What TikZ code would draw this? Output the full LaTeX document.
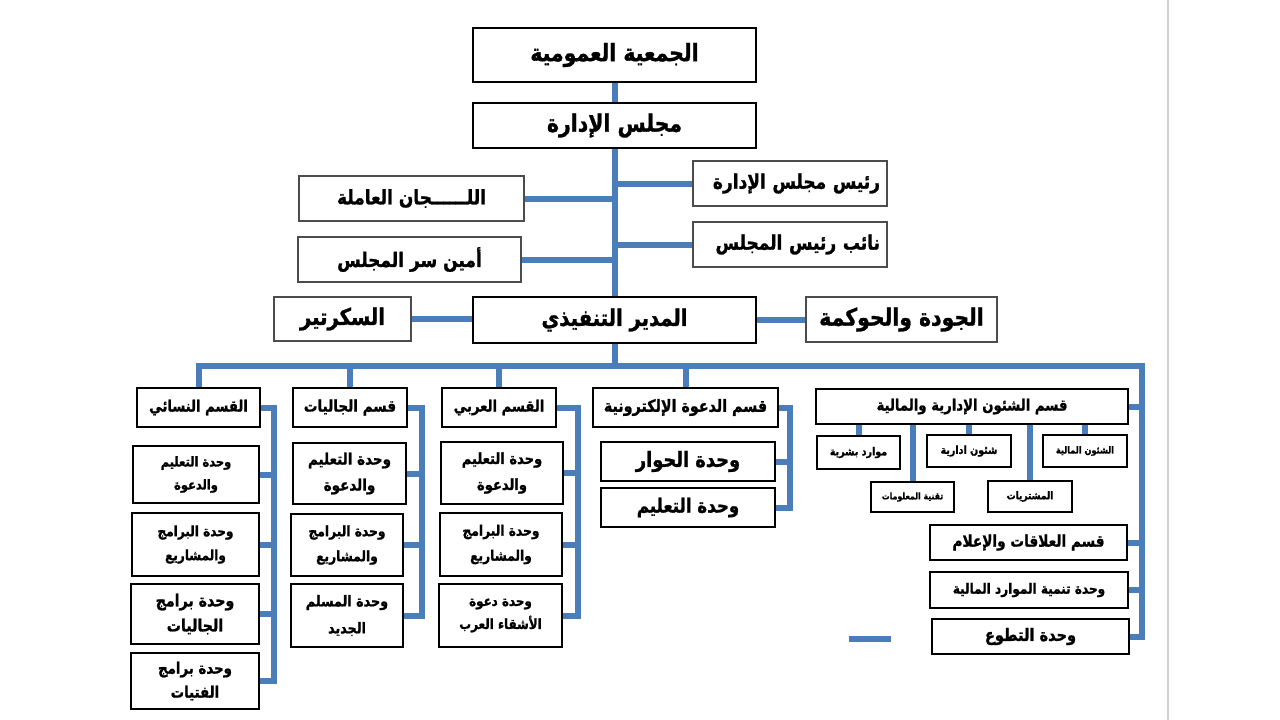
\documentclass[tikz,border=0pt]{standalone}
\usepackage{fontspec}
\usetikzlibrary{backgrounds}
\newfontfamily\arabicfont[Script=Arabic, FakeStretch=0.85, BoldFeatures={FakeBold=1.2}]{DejaVu Sans}
\TeXXeTstate=1
\newcommand\ar[1]{\beginR #1\endR}
\newcommand\fs[2]{\fontsize{#1}{#2}\selectfont}
\definecolor{cblue}{RGB}{74,126,187}
\tikzset{
  thick box/.style={draw=black, line width=2.6pt, fill=white, inner sep=0pt, align=center},
  thin box/.style={draw=black!70, line width=1.2pt, fill=white, inner sep=0pt, align=center},
  conn/.style={draw=cblue, line width=6pt},
  edge line/.style={draw=black!18, line width=1.5pt},
}
\newcommand\bx[8]{\node[#1, minimum width={(#5-#3)*1pt}, minimum height={(#6-#4)*1pt}, font=\arabicfont\bfseries#7] (#2) at ({(#3+#5)/2},{(#4+#6)/2}) {#8};}
\begin{document}
\begin{tikzpicture}[x=1pt,y=-1pt]
\useasboundingbox (0,0) rectangle (1280,720);
\coordinate (gT) at (1168,0);
\coordinate (gB) at (1168,720);
% top
\bx{thick box}{ga}{473}{28}{756}{82}{\fs{24}{28}}{\ar{الجمعية العمومية}}
\bx{thick box}{mb}{473}{103}{756}{148}{\fs{24}{28}}{\ar{مجلس الإدارة}}
\bx{thin box, text width=180pt, align=right}{rp}{693}{161}{887}{206}{\fs{20}{24}}{\ar{رئيس مجلس الإدارة}}
\bx{thin box, text width=180pt, align=right}{np}{693}{222}{887}{267}{\fs{20}{24}}{\ar{نائب رئيس المجلس}}
\bx{thin box}{lj}{299}{176}{524}{221}{\fs{20}{24}}{\ar{اللــــــجان العاملة}}
\bx{thin box}{am}{298}{237}{521}{282}{\fs{20}{24}}{\ar{أمين سر المجلس}}
\bx{thick box}{ed}{473}{297}{756}{343}{\fs{23}{27}}{\ar{المدير التنفيذي}}
\bx{thin box}{sec}{274}{297}{411}{341}{\fs{23}{27}}{\ar{السكرتير}}
\bx{thin box}{qg}{806}{297}{997}{342}{\fs{24}{28}}{\ar{الجودة والحوكمة}}
% departments
\bx{thick box}{nis}{137}{388}{260}{427}{\fs{15.5}{19}}{\ar{القسم النسائي}}
\bx{thick box}{jal}{293}{388}{407}{427}{\fs{16}{19}}{\ar{قسم الجاليات}}
\bx{thick box}{arb}{442}{388}{556}{427}{\fs{15.5}{19}}{\ar{القسم العربي}}
\bx{thick box}{dwa}{593}{388}{778}{427}{\fs{16.8}{20}}{\ar{قسم الدعوة الإلكترونية}}
\bx{thick box}{shu}{816}{389}{1128}{424}{\fs{15.6}{19}}{\ar{قسم الشئون الإدارية والمالية}}
% women section units
\bx{thick box}{n1}{133}{446}{259}{503}{\fs{13.5}{23}}{\ar{وحدة التعليم}\\\ar{والدعوة}}
\bx{thick box}{n2}{132}{513}{259}{576}{\fs{14.2}{24}}{\ar{وحدة البرامج}\\\ar{والمشاريع}}
\bx{thick box}{n3}{131}{584}{259}{644}{\fs{16.7}{25}}{\ar{وحدة برامج}\\\ar{الجاليات}}
\bx{thick box}{n4}{131}{653}{259}{709}{\fs{15.7}{24}}{\ar{وحدة برامج}\\\ar{الفتيات}}
% communities units
\bx{thick box}{j1}{293}{443}{406}{504}{\fs{15.9}{26}}{\ar{وحدة التعليم}\\\ar{والدعوة}}
\bx{thick box}{j2}{291}{514}{403}{576}{\fs{14.4}{25}}{\ar{وحدة البرامج}\\\ar{والمشاريع}}
\bx{thick box}{j3}{291}{584}{403}{647}{\fs{15}{27}}{\ar{وحدة المسلم}\\\ar{الجديد}}
% arab units
\bx{thick box}{a1}{441}{442}{563}{504}{\fs{15.4}{26}}{\ar{وحدة التعليم}\\\ar{والدعوة}}
\bx{thick box}{a2}{440}{513}{562}{576}{\fs{14.4}{25}}{\ar{وحدة البرامج}\\\ar{والمشاريع}}
\bx{thick box}{a3}{439}{584}{562}{647}{\fs{14}{23}}{\ar{وحدة دعوة}\\\ar{الأشقاء العرب}}
% e-dawa units
\bx{thick box}{d1}{601}{442}{775}{481}{\fs{21}{24}}{\ar{وحدة الحوار}}
\bx{thick box}{d2}{601}{488}{775}{527}{\fs{19.6}{23}}{\ar{وحدة التعليم}}
% admin sub units
\bx{thick box}{ms}{817}{436}{900}{469}{\fs{11.2}{14}}{\ar{موارد بشرية}}
\bx{thick box}{sa}{927}{435}{1011}{467}{\fs{11.2}{14}}{\ar{شئون ادارية}}
\bx{thick box}{sm}{1043}{435}{1127}{467}{\fs{9.6}{13}}{\ar{الشئون المالية}}
\bx{thick box}{tm}{871}{482}{954}{512}{\fs{9.2}{12}}{\ar{تقنية المعلومات}}
\bx{thick box}{mu}{988}{481}{1072}{512}{\fs{10.6}{13}}{\ar{المشتريات}}
% right column
\bx{thick box}{ala}{930}{525}{1127}{560}{\fs{16.1}{19}}{\ar{قسم العلاقات والإعلام}}
\bx{thick box}{tan}{930}{572}{1128}{608}{\fs{14.2}{18}}{\ar{وحدة تنمية الموارد المالية}}
\bx{thick box}{tat}{932}{619}{1129}{654}{\fs{17.1}{20}}{\ar{وحدة التطوع}}
% connectors
\coordinate (busY) at (0,366);
\coordinate (busR) at (1142,366);
\coordinate (nisV) at (274,0);
\coordinate (jalV) at (422,0);
\coordinate (arbV) at (578,0);
\coordinate (dwaV) at (790,0);
\coordinate (dA) at (849,639);
\coordinate (dB) at (891,639);
\begin{scope}[on background layer]
\fill[white] (0,0) rectangle (1280,720);
\draw[edge line] (gT) -- (gB);
\draw[conn] (ga.south) -- (mb.north);
\draw[conn] (mb.south) -- (ed.north);
\draw[conn] (lj.east) -- (lj.east -| mb.south);
\draw[conn] (am.east) -- (am.east -| mb.south);
\draw[conn] (rp.west) -- (rp.west -| mb.south);
\draw[conn] (np.west) -- (np.west -| mb.south);
\draw[conn] (sec.east) -- (sec.east -| ed.west);
\draw[conn] (ed.east) -- (ed.east -| qg.west);
\draw[conn] (ed.south) -- (ed.south |- busY);
\draw[conn] (nis.north) -- (nis.north |- busY) -- (busR) -- (busR |- tat.east) -- (tat.east);
\draw[conn] (jal.north) -- (jal.north |- busY);
\draw[conn] (arb.north) -- (arb.north |- busY);
\draw[conn] (dwa.north) -- (dwa.north |- busY);
\draw[conn] (shu.east) -- (shu.east -| busR);
\draw[conn] (ala.east) -- (ala.east -| busR);
\draw[conn] (tan.east) -- (tan.east -| busR);
% women
\draw[conn] (nis.east) -- (nis.east -| nisV) -- (nisV |- n4.east) -- (n4.east);
\draw[conn] (n1.east) -- (n1.east -| nisV);
\draw[conn] (n2.east) -- (n2.east -| nisV);
\draw[conn] (n3.east) -- (n3.east -| nisV);
% communities
\draw[conn] (jal.east) -- (jal.east -| jalV) -- (jalV |- j3.east) -- (j3.east);
\draw[conn] (j1.east) -- (j1.east -| jalV);
\draw[conn] (j2.east) -- (j2.east -| jalV);
% arab
\draw[conn] (arb.east) -- (arb.east -| arbV) -- (arbV |- a3.east) -- (a3.east);
\draw[conn] (a1.east) -- (a1.east -| arbV);
\draw[conn] (a2.east) -- (a2.east -| arbV);
% e-dawa
\draw[conn] (dwa.east) -- (dwa.east -| dwaV) -- (dwaV |- d2.east) -- (d2.east);
\draw[conn] (d1.east) -- (d1.east -| dwaV);
% admin sub units
\draw[conn] (ms.north) -- (ms.north |- shu.south);
\draw[conn] (sa.north) -- (sa.north |- shu.south);
\draw[conn] (sm.north) -- (sm.north |- shu.south);
\draw[conn] (tm.north) -- (tm.north |- shu.south);
\draw[conn] (mu.north) -- (mu.north |- shu.south);
% loose dash
\draw[conn] (dA) -- (dB);
\end{scope}
\end{tikzpicture}
\end{document}
